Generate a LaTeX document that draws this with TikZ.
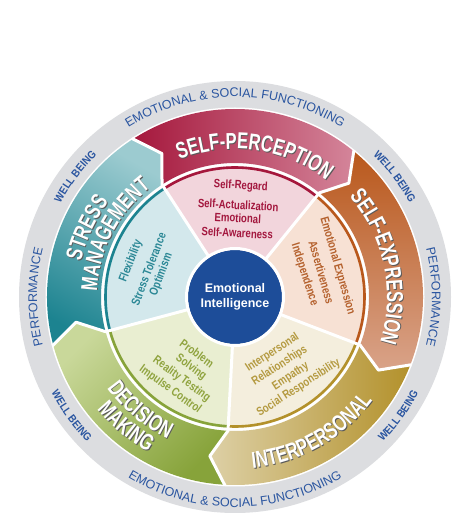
\documentclass[tikz,border=0pt]{standalone}
\usepackage{fontspec}
\setmainfont{Liberation Sans}
\newfontfamily\headfont[FakeStretch=0.72]{Liberation Sans}
\newfontfamily\subfont[FakeStretch=0.8]{Liberation Sans}
\newfontfamily\wbfont[FakeStretch=0.88]{Liberation Sans}
\usetikzlibrary{decorations.text}

\definecolor{ringgray}{HTML}{DCDDE0}
\definecolor{ringblue}{HTML}{2A55A0}
\definecolor{eiblue}{HTML}{1D4D99}
% self-perception
\definecolor{spdark}{HTML}{A5173C}
\definecolor{splight}{HTML}{D4859A}
\definecolor{spwedge}{HTML}{F2D5DC}
\definecolor{sptext}{HTML}{A3173E}
% self-expression
\definecolor{sedark}{HTML}{B9581C}
\definecolor{selight}{HTML}{D9A389}
\definecolor{sewedge}{HTML}{F7E1D4}
\definecolor{setext}{HTML}{B4602C}
% interpersonal
\definecolor{ipdark}{HTML}{B3912B}
\definecolor{iplight}{HTML}{DDD0A6}
\definecolor{ipwedge}{HTML}{F4EEDD}
\definecolor{iptext}{HTML}{B49A40}
% decision making
\definecolor{dmdark}{HTML}{87A33A}
\definecolor{dmlight}{HTML}{C9D89A}
\definecolor{dmwedge}{HTML}{E9EED1}
\definecolor{dmtext}{HTML}{8FA33E}
% stress management
\definecolor{smdark}{HTML}{1C8390}
\definecolor{smlight}{HTML}{9CCBD0}
\definecolor{smwedge}{HTML}{D3E8EC}
\definecolor{smtext}{HTML}{2A8795}

\newcommand\arctext[5]{%
  \path[decorate,decoration={text along path,text align=center,text={|#4|#5}}]
    (#2:#1) arc[start angle=#2,end angle=#3,radius=#1];}
\newcommand\headfmt{\fontsize{23}{23}\selectfont\headfont\bfseries}
\newcommand\headarc[4]{%
  \begin{scope}[shift={(0.9,-0.9)}]\arctext{#1}{#2}{#3}{\headfmt\color{black!65}}{#4}\end{scope}%
  \arctext{#1}{#2}{#3}{\headfmt\color{white}}{#4}}
\newcommand\ringfmt{\fontsize{12.5}{12.5}\selectfont\color{ringblue}}
\newcommand\wbfmt{\fontsize{11}{11}\selectfont\wbfont\bfseries\color{ringblue}}

% band: ccw end angle #1, clockwise end #2
\newcommand\bandpath[2]{(#1:188) arc[start angle=#1,end angle=#2,radius=188]
  -- (#2-6:161) -- (#2:134) arc[start angle=#2,end angle=#1,radius=134]
  -- (#1-6:161) -- cycle}
\newcommand\wedgepath[2]{(#1:131) arc[start angle=#1,end angle=#2,radius=131]
  -- (#2:45) arc[start angle=#2,end angle=#1,radius=45] -- cycle}

\tikzset{
  subtxt/.style={font=\fontsize{12}{13}\selectfont\subfont\bfseries, inner sep=0pt, align=center},
  sep/.style={white, line width=3pt, line join=round},
}

\begin{document}
\begin{tikzpicture}[x=1pt,y=1pt]
\path[use as bounding box] (0,0) rectangle (462,519);
\fill[white] (0,0) rectangle (462,519);
\begin{scope}[shift={(235,222)}]
  % outer ring
  \fill[ringgray] (0,0) circle (216);
  \fill[white] (0,0) circle (189.5);
  % bands
  \shade[left color=spdark, middle color=spdark!92!splight, right color=splight] \bandpath{123}{51};
  \shade[top color=sedark, middle color=sedark!80!selight, bottom color=selight] \bandpath{51}{-21};
  \shade[left color=iplight, right color=ipdark] \bandpath{-21}{-93};
  \shade[top color=dmlight, bottom color=dmdark, shading angle=45] \bandpath{-93}{-165};
  \shade[top color=smlight, bottom color=smdark, shading angle=-30] \bandpath{-165}{-237};
  % wedges
  \fill[spwedge] \wedgepath{123}{51};
  \fill[sewedge] \wedgepath{51}{-21};
  \fill[ipwedge] \wedgepath{-21}{-93};
  \fill[dmwedge] \wedgepath{-93}{-165};
  \fill[smwedge] \wedgepath{-165}{-237};
  % dark rims
  \draw[spdark, line width=2.6pt] (123:129.5) arc[start angle=123,end angle=51,radius=129.5];
  \draw[sedark, line width=2.6pt] (51:129.5) arc[start angle=51,end angle=-21,radius=129.5];
  \draw[ipdark, line width=2.6pt] (-21:129.5) arc[start angle=-21,end angle=-93,radius=129.5];
  \draw[dmdark, line width=2.6pt] (-93:129.5) arc[start angle=-93,end angle=-165,radius=129.5];
  \draw[smdark, line width=2.6pt] (-165:129.5) arc[start angle=-165,end angle=-237,radius=129.5];
  % separators
  \foreach \b in {123,51,-21,-93,-165}
    \draw[sep] (\b:45) -- (\b:134) -- (\b-6:161) -- (\b:189);
  % centre
  \fill[eiblue] (0,0) circle (47);
  \draw[white, line width=3pt] (0,0) circle (48.5);
  \node[font=\fontsize{12.5}{15.5}\selectfont\bfseries, text=white, align=center] (ei) at (0,0) {Emotional\\Intelligence};

  % outer ring texts
  \arctext{200}{150}{30}{\ringfmt}{EMOTIONAL {\&} SOCIAL FUNCTIONING}
  \arctext{210}{-150}{-30}{\ringfmt}{EMOTIONAL {\&} SOCIAL FUNCTIONING}
  \arctext{198}{220}{140}{\ringfmt}{PERFORMANCE}
  \arctext{197}{40}{-40}{\ringfmt}{PERFORMANCE}
  \arctext{198}{165}{121}{\wbfmt}{WELL BEING}
  \arctext{198}{59}{15}{\wbfmt}{WELL BEING}
  \arctext{207}{194}{238}{\wbfmt}{WELL BEING}
  \arctext{207}{-58}{-14}{\wbfmt}{WELL BEING}

  % headings
  \headarc{148}{132}{32}{SELF-PERCEPTION}
  \headarc{152}{62}{-38}{SELF-EXPRESSION}
  \headarc{172}{-110}{-11}{INTERPERSONAL}
  \headarc{157}{190}{270}{DECISION}
  \headarc{178}{190}{270}{MAKING}
  \headarc{158}{200}{110}{STRESS}
  \headarc{138}{205}{100}{MANAGEMENT}

  % subscales
  \node[subtxt, text=sptext, rotate=-3] (sp1) at (87:111) {Self-Regard};
  \node[subtxt, text=sptext, rotate=-3] (sp2) at (88:92) {Self-Actualization};
  \node[subtxt, text=sptext, rotate=-3] (sp3) at (88:79) {Emotional};
  \node[subtxt, text=sptext, rotate=-3] (sp4) at (88:64) {Self-Awareness};

  \node[subtxt, text=setext, rotate=-74] (se1) at (17:107) {Emotional Expression};
  \node[subtxt, text=setext, rotate=-74] (se2) at (16:90) {Assertiveness};
  \node[subtxt, text=setext, rotate=-72] (se3) at (18:73) {Independence};

  \node[subtxt, text=iptext, rotate=33] (ip1) at (-56:67) {Interpersonal};
  \node[subtxt, text=iptext, rotate=33] (ip2) at (-57:82) {Relationships};
  \node[subtxt, text=iptext, rotate=33] (ip3) at (-55:97) {Empathy};
  \node[subtxt, text=iptext, rotate=33] (ip4) at (-55:111) {Social Responsibility};

  \node[subtxt, text=dmtext, rotate=-36] (dm1) at (236:68) {Problem};
  \node[subtxt, text=dmtext, rotate=-36] (dm2) at (238:83) {Solving};
  \node[subtxt, text=dmtext, rotate=-36] (dm3) at (237:98) {Reality Testing};
  \node[subtxt, text=dmtext, rotate=-36] (dm4) at (235:113) {Impulse Control};

  \node[subtxt, text=smtext, rotate=69] (sm1) at (161:110) {Flexibility};
  \node[subtxt, text=smtext, rotate=69] (sm2) at (162:91) {Stress Tolerance};
  \node[subtxt, text=smtext, rotate=69] (sm3) at (163:77) {Optimism};
\end{scope}
\end{tikzpicture}
\end{document}
